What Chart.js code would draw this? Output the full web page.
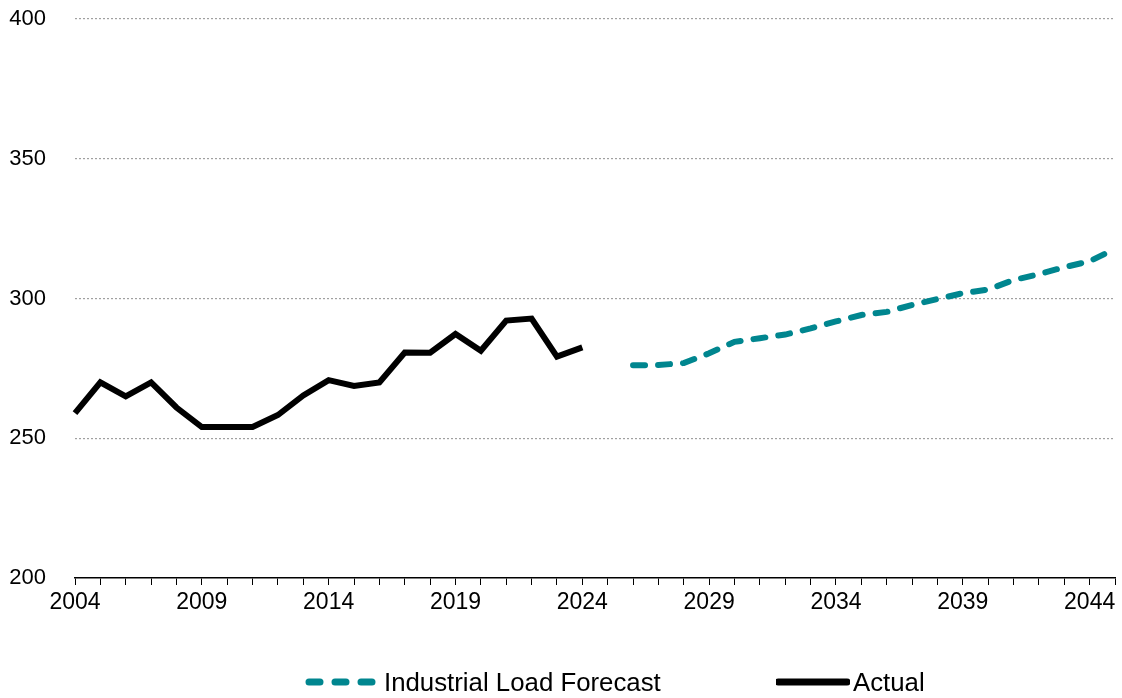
<!DOCTYPE html>
<html>
<head>
<meta charset="utf-8">
<script src="https://cdn.jsdelivr.net/npm/chart.js@4/dist/chart.umd.min.js"></script>
<style>
    body { margin: 0; background: #fff; }
    #wrap { position: relative; width: 1122px; height: 698px; }
    #legend { position: absolute; top: 666px; left: 0; width: 1122px; height: 32px; font-family: 'Liberation Sans', Arial, sans-serif; font-size: 25.8px; color: #000; }
    .item { position: absolute; top: 0; display: flex; align-items: center; height: 32px; }
    .item svg { margin-right: 3px; }
</style>
</head>
<body>
<div id="wrap">
    <canvas id="chart-load" width="1122" height="698"></canvas>
    <div id="legend">
        <div class="item" style="left:303px">
            <svg width="78" height="12"><line x1="6" y1="6" x2="74" y2="6" stroke="#00868F" stroke-width="7" stroke-linecap="round" stroke-dasharray="11 15"/></svg>
            <span>Industrial Load Forecast</span>
        </div>
        <div class="item" style="left:776px">
            <svg width="74" height="12"><line x1="2" y1="6" x2="71" y2="6" stroke="#000" stroke-width="7" stroke-linecap="round"/></svg>
            <span>Actual</span>
        </div>
    </div>
</div>
<script>
Chart.defaults.font.family = "'Liberation Sans', Arial, sans-serif"
Chart.defaults.color = '#000'

const years = ['2004', '2005', '2006', '2007', '2008', '2009', '2010', '2011', '2012', '2013', '2014', '2015', '2016', '2017', '2018', '2019', '2020', '2021', '2022', '2023', '2024', '2025', '2026', '2027', '2028', '2029', '2030', '2031', '2032', '2033', '2034', '2035', '2036', '2037', '2038', '2039', '2040', '2041', '2042', '2043', '2044', '2045']

// 2004 - 2024
const actual = [259, 270, 265, 270, 261, 254, 254, 254, 258.3, 265.3, 270.8, 268.7, 270, 280.7, 280.6, 287.3, 281.3, 292.1, 292.8, 279.2, 282.5]

// 2026 - 2045
const forecast = [276.1, 276.2, 276.9, 280.4, 284.5, 285.8, 287.1, 289.3, 291.8, 294.1, 295.2, 297.7, 299.8, 301.9, 303.2, 306.6, 308.7, 311.2, 313.3, 317.8]

const yTicks = [200, 250, 300, 350, 400]


function padTo(values, start) {
    const out = years.map(() => null)
    values.forEach((v, i) => out[start + i] = v)
    return out
}

let data = {
    labels: years,
    datasets: [
        {
            label: 'Industrial Load Forecast',
            data: padTo(forecast, years.indexOf('2026')),
            borderColor: '#00868F',
            borderWidth: 6,
            borderDash: [12, 13],
            borderCapStyle: 'round',
            pointRadius: 0,
            tension: 0
        },
        {
            label: 'Actual',
            data: padTo(actual, 0),
            borderColor: '#000',
            borderWidth: 6,
            pointRadius: 0,
            tension: 0
        }
    ]
}

let options = {
    responsive: false,
    animation: false,
    layout: {
        padding: { top: 19, right: 7, bottom: 80, left: 0 }
    },
    plugins: {
        legend: { display: false },
        tooltip: { enabled: false }
    },
    scales: {
        x: {
            offset: false,
            grid: {
                drawOnChartArea: false,
                drawTicks: true,
                tickLength: 7,
                color: '#000',
                lineWidth: 1
            },
            border: { display: true, color: '#000', width: 1.5 },
            ticks: {
                autoSkip: false,
                maxRotation: 0,
                padding: 4,
                font: { size: 23 },
                callback: (v, i) => i % 5 === 0 ? years[i] : ''
            },
            afterFit: scale => { scale.height = 40 }
        },
        y: {
            min: 200,
            max: 400,
            afterBuildTicks: scale => { scale.ticks = yTicks.map(v => ({ value: v })) },
            grid: {
                drawTicks: false,
                color: ctx => ctx.tick && ctx.tick.value === 200 ? 'rgba(0,0,0,0)' : '#A0A0A0',
                lineWidth: 1.2
            },
            border: { display: false, dash: [2, 2] },
            ticks: {
                padding: 29,
                font: { size: 22 }
            },
            afterFit: scale => {
                scale.width = 75
                scale.paddingTop = 0
                scale.paddingBottom = 0
            }
        }
    }
}

new Chart('chart-load', { type: 'line', data, options })
</script>
</body>
</html>
